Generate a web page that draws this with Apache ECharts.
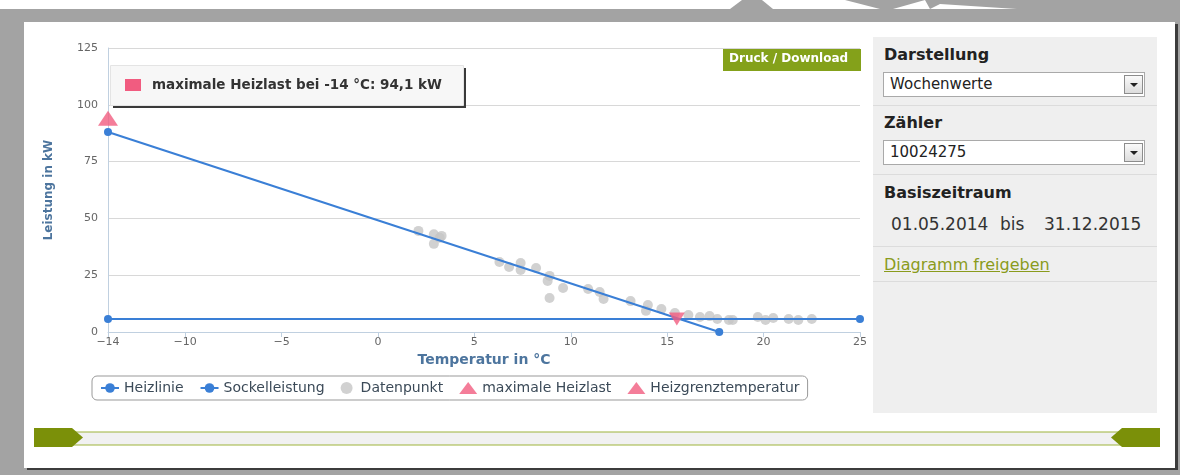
<!DOCTYPE html>
<html>
<head>
<meta charset="utf-8">
<script src="https://cdn.jsdelivr.net/npm/echarts@6/dist/echarts.min.js"></script>
<style>
  body { margin:0; width:1180px; height:475px; background:#a3a3a3; position:relative; overflow:hidden; font-family:"DejaVu Sans", sans-serif; }
  #topstrip { position:absolute; left:0; top:0; }
  #panel { position:absolute; left:24px; top:22px; width:1151px; height:446px; background:#fff; box-shadow:3px 2px 0 #3c3c3c; }
  #chart { position:absolute; left:0; top:0; width:870px; height:420px; }
  #side { position:absolute; left:873px; top:37px; width:284px; height:376px; background:#efefef; color:#222; }
  #side .head { position:absolute; left:11px; font-size:16px; font-weight:bold; line-height:20px; }
  #side .sel { position:absolute; left:10px; width:260px; height:23px; background:#fff; border:1px solid #a9a9a9; font-size:15px; line-height:23px; color:#222; }
  #side .sel span { position:absolute; left:6px; top:0; }
  #side .sel .btn { position:absolute; right:1px; top:2px; width:17px; height:17px; border:1px solid #8c8c8c; background:linear-gradient(#fafafa,#dcdcdc); }
  #side .sel .btn:after { content:""; position:absolute; left:5px; top:7px; border-left:4px solid transparent; border-right:4px solid transparent; border-top:4px solid #222; }
  #side .sep { position:absolute; left:0; width:284px; height:1px; background:#dcdcdc; }
  #side .date { position:absolute; top:176px; font-size:17px; line-height:22px; color:#333; }
  #side .link { position:absolute; left:11px; top:218px; font-size:16px; line-height:20px; color:#8a9b1c; text-decoration:underline; }
  #bar { position:absolute; left:34px; top:428px; }
</style>
</head>
<body>
<svg id="topstrip" width="1180" height="9">
  <rect x="0" y="0" width="1180" height="9" fill="#fff"/>
  <polygon points="730,9 742,0 762,0 773,9" fill="#a3a3a3"/>
  <polygon points="845,0 925,0 893,9 880,9" fill="#a3a3a3"/>
  <polygon points="925,0 1180,0 1180,9 1017,9 940,4 930,9" fill="#a3a3a3"/>
</svg>
<div id="panel"></div>
<div id="chart"></div>
<div id="side">
  <div class="head" style="top:8px">Darstellung</div>
  <div class="sel" style="top:35px"><span>Wochenwerte</span><div class="btn"></div></div>
  <div class="sep" style="top:68px"></div>
  <div class="head" style="top:76px">Zähler</div>
  <div class="sel" style="top:103px"><span>10024275</span><div class="btn"></div></div>
  <div class="sep" style="top:137px"></div>
  <div class="head" style="top:146px">Basiszeitraum</div>
  <div class="date" style="left:18px">01.05.2014</div>
  <div class="date" style="left:127px">bis</div>
  <div class="date" style="left:171px">31.12.2015</div>
  <div class="sep" style="top:209px"></div>
  <div class="link">Diagramm freigeben</div>
  <div class="sep" style="top:244px"></div>
</div>
<svg id="bar" width="1126" height="19">
  <rect x="38" y="4" width="1050" height="13" fill="#f1f1f1" stroke="#9db33a" stroke-width="1"/>
  <polygon points="0,0 38,0 49,9.5 38,19 0,19" fill="#7b9009"/>
  <polygon points="1126,0 1088,0 1077,9.5 1088,19 1126,19" fill="#7b9009"/>
</svg>
<script>
// Werte aus dem Diagramm
var xTicks = [-14, -10, -5, 0, 5, 10, 15, 20, 25];
var heizlinie = [[-14, 88], [17.7, 0]];
var sockelleistung = [[-14, 5.7], [25, 5.7]];
var datenpunkte = [
  [2.1, 44.5], [2.9, 43.0], [3.3, 42.3], [3.2, 41.5], [2.9, 38.8],
  [6.3, 30.8], [6.8, 28.6], [7.4, 30.4], [7.4, 27.3], [8.2, 28.2],
  [8.9, 24.7], [8.8, 22.5], [9.6, 19.4], [8.9, 15.0], [10.9, 18.9],
  [11.5, 17.6], [11.7, 14.5], [13.1, 13.6], [14.0, 11.9], [13.9, 9.3],
  [14.7, 10.1], [15.4, 8.4], [16.1, 7.5], [16.7, 6.6], [17.2, 7.0],
  [17.6, 5.7], [18.2, 5.3], [18.4, 5.3], [19.7, 6.6], [20.1, 5.3],
  [20.5, 6.2], [21.3, 5.7], [21.8, 5.3], [22.5, 5.7]
];
var maxHeizlast = [[-14, 94.1]];
var heizgrenze = [[15.5, 5.7]];

var blau = '#3a7fd6';
var pink = '#f15c80';

var myChart = echarts.init(document.getElementById('chart'));

myChart.setOption({
    animation: false,
    textStyle: { fontFamily: 'DejaVu Sans' },
    grid: { left: 108, top: 48, width: 752, height: 284, containLabel: false },
    legend: {
        left: 92, top: 376,
        data: ['Heizlinie', 'Sockelleistung', 'Datenpunkt', 'maximale Heizlast', 'Heizgrenztemperatur'],
        borderColor: '#999', borderWidth: 1, borderRadius: 5,
        padding: [5, 8, 5, 8],
        itemGap: 16, itemWidth: 18, itemHeight: 12,
        textStyle: { color: '#3b4a58', fontSize: 14 }
    },
    xAxis: {
        type: 'value', min: -14, max: 25,
        name: 'Temperatur in °C', nameLocation: 'middle', nameGap: 21,
        nameTextStyle: { color: '#4d759e', fontWeight: 'bold', fontSize: 14 },
        axisLine: { show: true, onZero: false, lineStyle: { color: '#c0d0e0' } },
        axisTick: { show: true, length: 5, lineStyle: { color: '#c0d0e0' }, customValues: xTicks },
        axisLabel: {
            color: '#666', fontSize: 11, margin: 5, customValues: xTicks,
            formatter: function (v) { return String(v).replace('-', '\u2212'); }
        },
        splitLine: { show: false }
    },
    yAxis: {
        type: 'value', min: 0, max: 125, interval: 25,
        name: 'Leistung in kW', nameLocation: 'middle', nameGap: 53,
        nameTextStyle: { color: '#4d759e', fontWeight: 'bold', fontSize: 12 },
        axisLine: { show: true, onZero: false, lineStyle: { color: '#c0d0e0' } },
        axisTick: { show: false },
        axisLabel: { color: '#666', fontSize: 11, margin: 10 },
        splitLine: { lineStyle: { color: '#d8d8d8' } }
    },
    series: [
        {
            name: 'Heizlinie', type: 'line', data: heizlinie, z: 3,
            symbol: 'circle', symbolSize: 8, showSymbol: true,
            itemStyle: { color: blau }, lineStyle: { color: blau, width: 2 }
        },
        {
            name: 'Sockelleistung', type: 'line', data: sockelleistung, z: 3,
            symbol: 'circle', symbolSize: 8, showSymbol: true,
            itemStyle: { color: blau }, lineStyle: { color: blau, width: 2 }
        },
        {
            name: 'Datenpunkt', type: 'scatter', data: datenpunkte, z: 1,
            symbol: 'circle', symbolSize: 10,
            itemStyle: { color: '#c6c6c6' }
        },
        {
            name: 'maximale Heizlast', type: 'scatter', data: maxHeizlast, z: 4,
            symbol: 'triangle', symbolSize: [20, 15],
            itemStyle: { color: pink }
        },
        {
            name: 'Heizgrenztemperatur', type: 'scatter', data: heizgrenze, z: 4,
            symbol: 'triangle', symbolRotate: 180, symbolSize: [16, 13],
            itemStyle: { color: pink }
        }
    ],
    graphic: [
        // Druck-Button
        { type: 'rect', left: 723, top: 49, z: 10, shape: { width: 138, height: 22 }, style: { fill: '#84a11a' } },
        { type: 'text', left: 729, top: 53, z: 11, style: { text: 'Druck / Download', fill: '#fff', font: 'bold 12px "DejaVu Sans"' } },
        // fest angezeigter Tooltip
        { type: 'rect', left: 113, top: 68, z: 10, shape: { width: 353, height: 40 }, style: { fill: '#3a3a3a' } },
        { type: 'rect', left: 110, top: 65, z: 11, shape: { width: 353, height: 40 }, style: { fill: '#f7f7f7', stroke: '#e4e4e4', lineWidth: 1 } },
        { type: 'rect', left: 125, top: 79, z: 12, shape: { width: 16, height: 12 }, style: { fill: pink } },
        {
            type: 'text', left: 152, top: 78, z: 12,
            style: {
                text: 'maximale Heizlast bei ' + maxHeizlast[0][0] + ' °C: ' + String(maxHeizlast[0][1]).replace('.', ',') + ' kW',
                fill: '#333', font: 'bold 13.5px "DejaVu Sans"'
            }
        }
    ]
});
</script>
</body>
</html>
